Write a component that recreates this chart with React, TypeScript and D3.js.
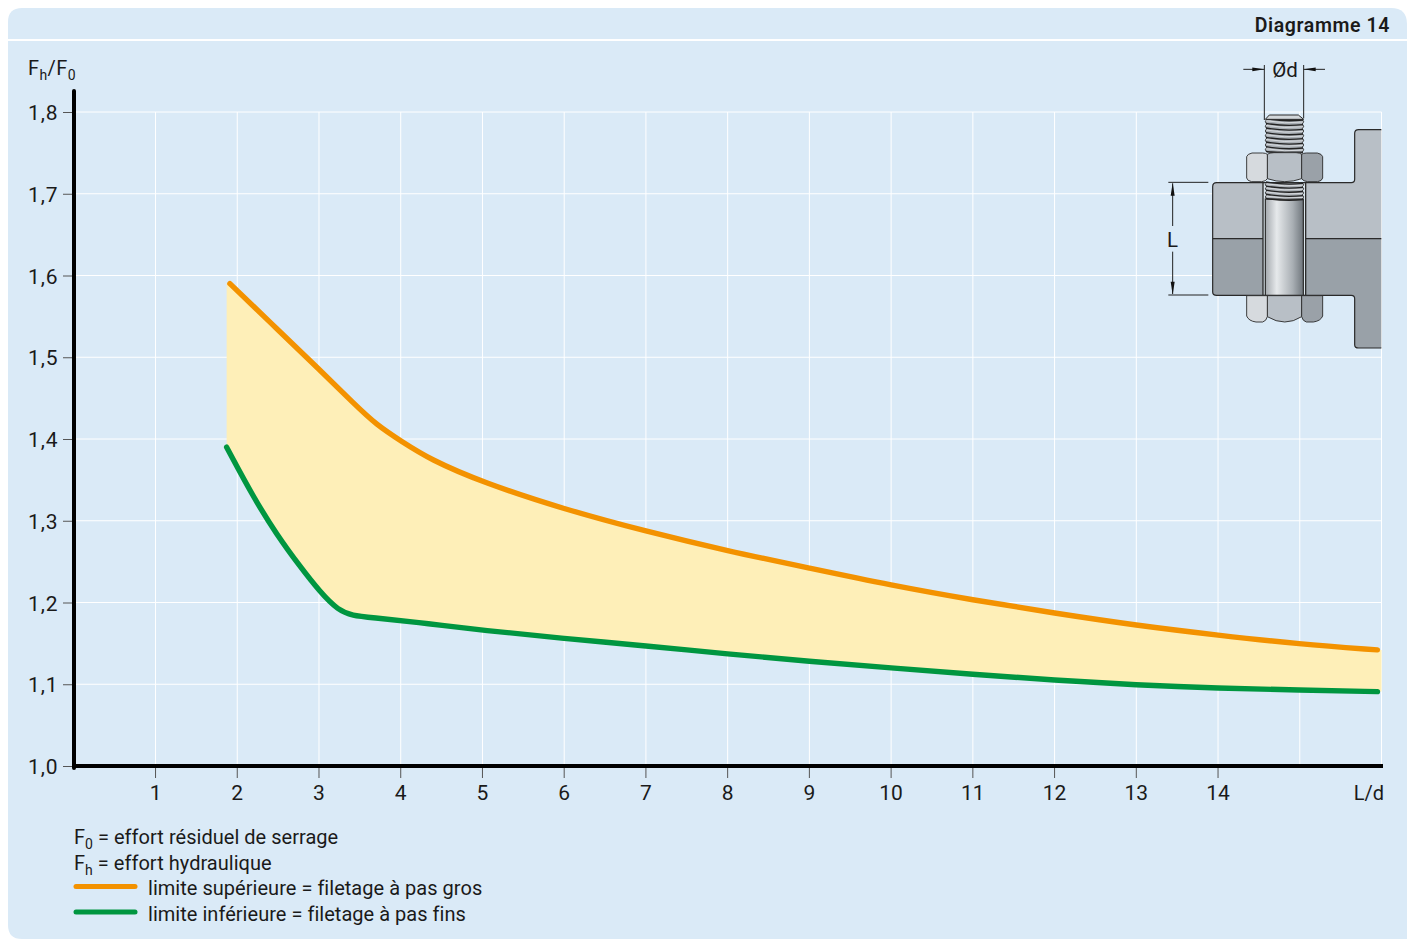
import React from "react";
import * as d3 from "d3";

const xTicks = [1,2,3,4,5,6,7,8,9,10,11,12,13,14];
const xGrid = [1,2,3,4,5,6,7,8,9,10,11,12,13,14,15,16];
const yTicks = [1.0,1.1,1.2,1.3,1.4,1.5,1.6,1.7,1.8];
const upperX = [1.91,2.483,3.004,3.42,3.706,4.012,4.358,5,6,7,8,9,10,11,12,13,14,15,15.95];
const upperY = [1.59,1.535,1.485,1.444,1.417,1.397,1.375,1.347,1.314,1.287,1.263,1.242,1.221,1.203,1.187,1.172,1.16,1.149,1.142];
const lowerX = [1.87,2.196,2.483,2.768,3.012,3.237,3.42,3.6,4.358,5,6,7,8,9,10,11,12,13,14,15,15.95];
const lowerY = [1.39,1.329,1.283,1.244,1.213,1.19,1.184,1.182,1.174,1.166,1.156,1.147,1.137,1.128,1.12,1.112,1.105,1.099,1.095,1.093,1.091];

const W = 1411, H = 939;
const FONT = "Roboto, sans-serif";
const ink = "#1a1a1a";
const ORANGE = "#f39200", GREEN = "#009640";

const x = d3.scaleLinear().domain([0,16]).range([73.8,1381.5]);
const y = d3.scaleLinear().domain([1,1.8]).range([766,112]);
const zip = (a:number[],b:number[]) => a.map((v,i)=>[x(v),y(b[i])] as [number,number]);
const lineGen = d3.line<[number,number]>().curve(d3.curveBasis);
const upper = zip(upperX,upperY);
const lower = zip(lowerX,lowerY);
const uLast = upper[upper.length-1], lLast = lower[lower.length-1];
const areaD =
  `M${lower[0][0]},${upper[0][1]-1}L` + lineGen(upper)!.slice(1) +
  `L${x(16)},${uLast[1]}L${x(16)},${lLast[1]}L` +
  lineGen(lower.slice().reverse())!.slice(1) + "Z";

const ix = (v:number)=>1150+v/3, iy=(v:number)=>50+v/3;
// path builder in reference-crop coordinates
const pts = (s:string) => s.replace(/(-?\d+(?:\.\d+)?) (-?\d+(?:\.\d+)?)/g,(_,a,b)=>`${ix(+a)} ${iy(+b)}`);

function Thread({y0,y1,pitch}:{y0:number,y1:number,pitch:number}){
  const n = Math.round((y1-y0)/pitch);
  const L=346,R=461;
  let left=`M${L+4} ${y0}`;
  const bands:number[]=[];
  for(let i=0;i<n;i++){
    const a=y0+i*pitch;
    left+=` L${L} ${a+pitch*0.5} L${L+4} ${a+pitch}`;
  }
  let rr="";
  for(let i=n-1;i>=0;i--){
    const a=y0+i*pitch;
    rr+=` L${R} ${a+pitch*0.5} L${R-4} ${a}`;
  }
  for(let i=0;i<=n;i++) bands.push(y0+i*pitch);
  const outline = pts(left+" L"+(R-4)+" "+y1+rr+" Z");
  const arc = (a:number)=>pts(`M${L+2} ${a-2} Q${(L+R)/2} ${a+8} ${R-2} ${a+2}`);
  return <g>
    <path d={outline} fill="#a8aeb4" stroke="#222" strokeWidth={0.9}/>
    {bands.map((a,i)=><path key={i} d={arc(a)} fill="none" stroke="#222" strokeWidth={1.3}/>)}
    {bands.slice(0,-1).map((a,i)=><path key={"h"+i} d={arc(a+pitch*0.45)} fill="none" stroke="#e2e5e8" strokeWidth={0.8}/>)}
  </g>;
}

function Bolt(){
  const s = "#2a2a2a";
  return <g>
    <defs>
      <linearGradient id="shank" x1="0" x2="1" y1="0" y2="0">
        <stop offset="0" stopColor="#a4a9ae"/><stop offset="0.3" stopColor="#e6e9eb"/><stop offset="0.72" stopColor="#a9afb4"/><stop offset="1" stopColor="#6f767c"/>
      </linearGradient>
    </defs>
    <path d={`M${ix(694)},${iy(566)}H${ix(188)}V${iy(410)}Q${ix(188)},${iy(398)} ${ix(200)},${iy(398)}H${ix(604)}Q${ix(614)},${iy(398)} ${ix(614)},${iy(388)}V${iy(250)}Q${ix(614)},${iy(239)} ${ix(626)},${iy(239)}H${ix(694)}Z`} fill="#b8bfc6"/>
    <path d={`M${ix(694)},${iy(566)}H${ix(188)}V${iy(726)}Q${ix(188)},${iy(736)} ${ix(200)},${iy(736)}H${ix(604)}Q${ix(614)},${iy(736)} ${ix(614)},${iy(746)}V${iy(884)}Q${ix(614)},${iy(894)} ${ix(626)},${iy(894)}H${ix(694)}Z`} fill="#99a1a8"/>
    <path d={`M${ix(694)},${iy(239)}H${ix(626)}Q${ix(614)},${iy(239)} ${ix(614)},${iy(250)}V${iy(388)}Q${ix(614)},${iy(398)} ${ix(604)},${iy(398)}H${ix(200)}Q${ix(188)},${iy(398)} ${ix(188)},${iy(410)}V${iy(726)}Q${ix(188)},${iy(736)} ${ix(200)},${iy(736)}H${ix(604)}Q${ix(614)},${iy(736)} ${ix(614)},${iy(746)}V${iy(884)}Q${ix(614)},${iy(894)} ${ix(626)},${iy(894)}H${ix(694)}`} fill="none" stroke={s} strokeWidth={1.2}/>
    <line x1={ix(188)} x2={ix(694)} y1={iy(566)} y2={iy(566)} stroke={s} strokeWidth={1.2}/>
    <rect x={ix(339)} y={iy(398)} width={ix(467)-ix(339)} height={iy(736)-iy(398)} fill="#dbe5ec" stroke={s} strokeWidth={1.3}/>
    <rect x={ix(346)} y={iy(447)} width={ix(460)-ix(346)} height={iy(736)-iy(447)} fill="url(#shank)" stroke={s} strokeWidth={1.2}/>
    {/* threads */}
    <Thread y0={208} y1={306} pitch={14}/>
    <path d={pts("M358 195 L445 195 L461 208 L346 208 Z")} fill="#d3d7da" stroke={s} strokeWidth={1}/>
    <Thread y0={398} y1={447} pitch={12.25}/>
    {/* top nut */}
    <path d={pts("M352 313 Q358 308 372 308 L438 308 Q450 308 455 313 L455 386 Q405 404 352 386 Z")} fill="#b8bfc6" stroke={s} strokeWidth={0.9}/>
    <path d={pts("M352 313 Q347 309 338 309 L306 309 Q292 312 290 320 L290 384 Q292 393 305 395 L335 395 Q348 394 352 386 Z")} fill="#d6dade" stroke={s} strokeWidth={0.9}/>
    <path d={pts("M455 313 Q460 309 469 309 L502 309 Q516 312 518 320 L518 384 Q516 393 503 395 L473 395 Q460 394 455 386 Z")} fill="#9aa1a8" stroke={s} strokeWidth={0.9}/>
    {/* bottom nut */}
    <path d={pts("M352 737 L455 737 L455 800 Q405 832 352 800 Z")} fill="#b8bfc6" stroke={s} strokeWidth={0.9}/>
    <path d={pts("M352 737 L290 737 L290 798 Q296 813 318 816 L338 816 Q349 813 352 800 Z")} fill="#d6dade" stroke={s} strokeWidth={0.9}/>
    <path d={pts("M455 737 L518 737 L518 798 Q512 813 490 816 L469 816 Q458 813 455 800 Z")} fill="#9aa1a8" stroke={s} strokeWidth={0.9}/>
    {/* dimensions */}
    <g stroke="#222" strokeWidth={1} fill="none">
      <line x1={ix(343)} x2={ix(343)} y1={iy(45)} y2={iy(210)}/>
      <line x1={ix(461)} x2={ix(461)} y1={iy(45)} y2={iy(205)}/>
      <line x1={ix(280)} x2={ix(343)} y1={iy(58)} y2={iy(58)}/>
      <line x1={ix(461)} x2={ix(525)} y1={iy(58)} y2={iy(58)}/>
      <line x1={ix(55)} x2={ix(175)} y1={iy(397)} y2={iy(397)}/>
      <line x1={ix(55)} x2={ix(175)} y1={iy(735)} y2={iy(735)}/>
      <line x1={ix(68)} x2={ix(68)} y1={iy(400)} y2={iy(528)}/>
      <line x1={ix(68)} x2={ix(68)} y1={iy(605)} y2={iy(732)}/>
    </g>
    <g fill="#111">
      <path d={`M${ix(343)},${iy(58)}l-12,-1.8v3.6Z`}/>
      <path d={`M${ix(461)},${iy(58)}l12,-1.8v3.6Z`}/>
      <path d={`M${ix(68)},${iy(398)}l-2,13h4Z`}/>
      <path d={`M${ix(68)},${iy(734)}l-2,-13h4Z`}/>
    </g>
    <text x={1285} y={76.5} fontSize={20.5} fontFamily={FONT} fill={ink} textAnchor="middle">Ød</text>
    <text x={1172.5} y={247} fontSize={20.5} fontFamily={FONT} fill={ink} textAnchor="middle">L</text>
  </g>;
}

export default function App(){
  const axisText = {fontSize:20, fontFamily:FONT, fill:ink};
  const numText = {fontSize:21, fontFamily:FONT, fill:ink};
  return <svg width={W} height={H} viewBox={`0 0 ${W} ${H}`} style={{position:"absolute",left:0,top:0,background:"#fff"}}>
    <path d={`M8,925V22Q8,8 22,8H1391Q1407,8 1407,24V939H22Q8,939 8,925Z`} fill="#daeaf7"/>
    <line x1={8} x2={1407} y1={40} y2={40} stroke="#fff" strokeWidth={2}/>
    <text x={1390} y={32} textAnchor="end" fontSize={19.5} fontWeight={600} letterSpacing={0.6} fontFamily={FONT} fill={ink}>Diagramme 14</text>

    {xGrid.map(v=><line key={v} x1={x(v)} x2={x(v)} y1={y(1.8)} y2={y(1)} stroke="#fff" strokeWidth={1}/>)}
    {yTicks.slice(1).map(v=><line key={v} x1={x(0)} x2={x(16)} y1={y(v)} y2={y(v)} stroke="#fff" strokeWidth={1}/>)}

    <path d={areaD} fill="#feefb8"/>
    <path d={lineGen(upper)!} fill="none" stroke={ORANGE} strokeWidth={5.4} strokeLinecap="round"/>
    <path d={lineGen(lower)!} fill="none" stroke={GREEN} strokeWidth={5.4} strokeLinecap="round"/>

    <Bolt/>

    {yTicks.map(v=><g key={v}>
      <line x1={63} x2={73} y1={y(v)+0.5} y2={y(v)+0.5} stroke="#555" strokeWidth={1}/>
      <text x={58.5} y={y(v)+8} textAnchor="end" letterSpacing={0.9} {...numText}>{d3.format(".1f")(v).replace(".",",")}</text>
    </g>)}
    {xTicks.map(v=><g key={v}>
      <line x1={x(v)} x2={x(v)} y1={767} y2={778} stroke="#555" strokeWidth={1}/>
      <text x={x(v)} y={800} textAnchor="middle" {...numText}>{v}</text>
    </g>)}
    <line x1={74} x2={74} y1={91} y2={768} stroke="#000" strokeWidth={4} strokeLinecap="round"/>
    <line x1={72} x2={1383} y1={766} y2={766} stroke="#000" strokeWidth={4}/>

    <text x={1384} y={800} textAnchor="end" {...axisText}>L/d</text>
    <text x={28} y={75} letterSpacing={0.4} {...axisText}>F<tspan dy={5} fontSize={14}>h</tspan><tspan dy={-5}>/F</tspan><tspan dy={5} fontSize={14}>0</tspan></text>

    <g {...axisText} letterSpacing={0.03}>
      <text x={74} y={844}>F<tspan dy={5} fontSize={14}>0</tspan><tspan dy={-5}> = effort résiduel de serrage</tspan></text>
      <text x={74} y={870}>F<tspan dy={5} fontSize={14}>h</tspan><tspan dy={-5}> = effort hydraulique</tspan></text>
      <text x={148} y={895}>limite supérieure = filetage à pas gros</text>
      <text x={148} y={921}>limite inférieure = filetage à pas fins</text>
    </g>
    <line x1={76} x2={135} y1={886.5} y2={886.5} stroke={ORANGE} strokeWidth={5} strokeLinecap="round"/>
    <line x1={76} x2={135} y1={912} y2={912} stroke={GREEN} strokeWidth={5} strokeLinecap="round"/>
  </svg>;
}
